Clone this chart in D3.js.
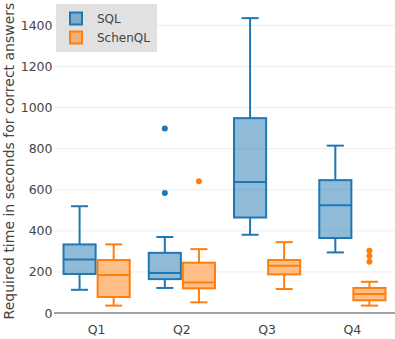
<!DOCTYPE html>
<html>
<head>
<meta charset="utf-8">
<script src="https://cdn.jsdelivr.net/npm/d3@7"></script>
<style>
  body { margin: 0; background: #fff; }
  text { font-family: "DejaVu Sans", Verdana, sans-serif; fill: #444; }
</style>
</head>
<body>
<script>
var w = 395, h = 339;

var categories = ["Q1", "Q2", "Q3", "Q4"];
var seriesNames = ["SQL", "SchenQL"];
var yTicks = [0, 200, 400, 600, 800, 1000, 1200, 1400];

// box stats per category: lower whisker, q1, median, q3, upper whisker
var sqlLow = [113, 122, 381, 295];
var sqlQ1 = [190, 165, 465, 365];
var sqlMed = [261, 195, 638, 525];
var sqlQ3 = [334, 293, 949, 647];
var sqlHigh = [520, 370, 1436, 815];
var sqlOutliers = [[], [585, 899], [], []];

var schenLow = [36, 52, 117, 36];
var schenQ1 = [78, 120, 188, 62];
var schenMed = [185, 149, 230, 92];
var schenQ3 = [258, 245, 258, 122];
var schenHigh = [334, 311, 345, 152];
var schenOutliers = [[], [642], [], [250, 277, 303]];

var colors = ["#1f77b4", "#ff7f0e"];
var fills = ["rgba(31,119,180,0.5)", "rgba(255,127,14,0.5)"];

var boxes = [];
categories.forEach(function(c, i) {
  boxes.push({cat: c, s: "SQL", low: sqlLow[i], q1: sqlQ1[i], med: sqlMed[i], q3: sqlQ3[i], high: sqlHigh[i], out: sqlOutliers[i]});
  boxes.push({cat: c, s: "SchenQL", low: schenLow[i], q1: schenQ1[i], med: schenMed[i], q3: schenQ3[i], high: schenHigh[i], out: schenOutliers[i]});
});

var plotL = 54, plotR = 395, plotT = 5, plotB = 313;

var svg = d3.select("body").append("svg").attr("width", w).attr("height", h);

var x0 = d3.scaleBand().domain(categories).range([plotL, plotR]).paddingInner(0.2).paddingOuter(0.1);
var x1 = d3.scaleBand().domain(seriesNames).range([0, x0.bandwidth()]);
var y = d3.scaleLinear().domain([0, 1500]).range([plotB, plotT]);
var color = d3.scaleOrdinal().domain(seriesNames).range(colors);
var fill = d3.scaleOrdinal().domain(seriesNames).range(fills);

// grid
svg.selectAll("line.grid").data(yTicks.slice(1)).enter().append("line")
  .attr("class", "grid")
  .attr("x1", plotL).attr("x2", plotR)
  .attr("y1", function(d) { return y(d); })
  .attr("y2", function(d) { return y(d); })
  .attr("stroke", "#eee").attr("stroke-width", 1);

// y tick labels
svg.selectAll("text.ytick").data(yTicks).enter().append("text")
  .attr("class", "ytick")
  .attr("x", 52.5)
  .attr("y", function(d) { return y(d) + 4.5; })
  .attr("text-anchor", "end")
  .attr("font-size", "12.5px")
  .text(function(d) { return d; });

// x tick labels
svg.selectAll("text.xtick").data(categories).enter().append("text")
  .attr("class", "xtick")
  .attr("x", function(d) { return x0(d) + x0.bandwidth() / 2; })
  .attr("y", 334)
  .attr("text-anchor", "middle")
  .attr("font-size", "12.5px")
  .text(function(d) { return d; });

// y title
svg.append("text")
  .attr("transform", "translate(14,161) rotate(-90)")
  .attr("text-anchor", "middle")
  .attr("font-size", "14px")
  .text("Required time in seconds for correct answers");

var g = svg.selectAll("g.box").data(boxes).enter().append("g")
  .attr("class", "box")
  .attr("transform", function(d) { return "translate(" + (x0(d.cat) + x1(d.s)) + ",0)"; });

var bw = x1.bandwidth();

// whiskers
g.append("line")
  .attr("x1", bw / 2).attr("x2", bw / 2)
  .attr("y1", function(d) { return y(d.low); })
  .attr("y2", function(d) { return y(d.q1); })
  .attr("stroke", function(d) { return color(d.s); }).attr("stroke-width", 2);
g.append("line")
  .attr("x1", bw / 2).attr("x2", bw / 2)
  .attr("y1", function(d) { return y(d.q3); })
  .attr("y2", function(d) { return y(d.high); })
  .attr("stroke", function(d) { return color(d.s); }).attr("stroke-width", 2);
g.selectAll("line.cap").data(function(d) { return [d.low, d.high].map(function(v) { return {v: v, s: d.s}; }); })
  .enter().append("line")
  .attr("class", "cap")
  .attr("x1", bw / 4).attr("x2", bw * 3 / 4)
  .attr("y1", function(d) { return y(d.v); })
  .attr("y2", function(d) { return y(d.v); })
  .attr("stroke", function(d) { return color(d.s); }).attr("stroke-width", 2);

// box
g.append("rect")
  .attr("x", 1).attr("width", bw - 2)
  .attr("y", function(d) { return y(d.q3); })
  .attr("height", function(d) { return y(d.q1) - y(d.q3); })
  .attr("fill", function(d) { return fill(d.s); })
  .attr("stroke", function(d) { return color(d.s); }).attr("stroke-width", 2);

// median
g.append("line")
  .attr("x1", 1).attr("x2", bw - 1)
  .attr("y1", function(d) { return y(d.med); })
  .attr("y2", function(d) { return y(d.med); })
  .attr("stroke", function(d) { return color(d.s); }).attr("stroke-width", 2);

// outliers
g.selectAll("circle").data(function(d) { return d.out.map(function(v) { return {v: v, s: d.s}; }); })
  .enter().append("circle")
  .attr("cx", bw / 2)
  .attr("cy", function(d) { return y(d.v); })
  .attr("r", 3)
  .attr("fill", function(d) { return color(d.s); });

// zero line
svg.append("line")
  .attr("x1", plotL).attr("x2", plotR)
  .attr("y1", y(0)).attr("y2", y(0))
  .attr("stroke", "#444").attr("stroke-width", 1);

// legend
var legend = svg.append("g").attr("transform", "translate(56,4)");
legend.append("rect").attr("width", 101).attr("height", 48).attr("fill", "#e1e1e1");
var items = legend.selectAll("g.item").data(seriesNames).enter().append("g")
  .attr("class", "item")
  .attr("transform", function(d, i) { return "translate(0," + (14.5 + i * 19) + ")"; });
items.append("rect")
  .attr("x", 14).attr("y", -6).attr("width", 12).attr("height", 12)
  .attr("fill", function(d) { return fill(d); })
  .attr("stroke", function(d) { return color(d); }).attr("stroke-width", 2);
items.append("text")
  .attr("x", 41).attr("y", 4.5)
  .attr("font-size", "12px")
  .text(function(d) { return d; });
</script>
</body>
</html>
